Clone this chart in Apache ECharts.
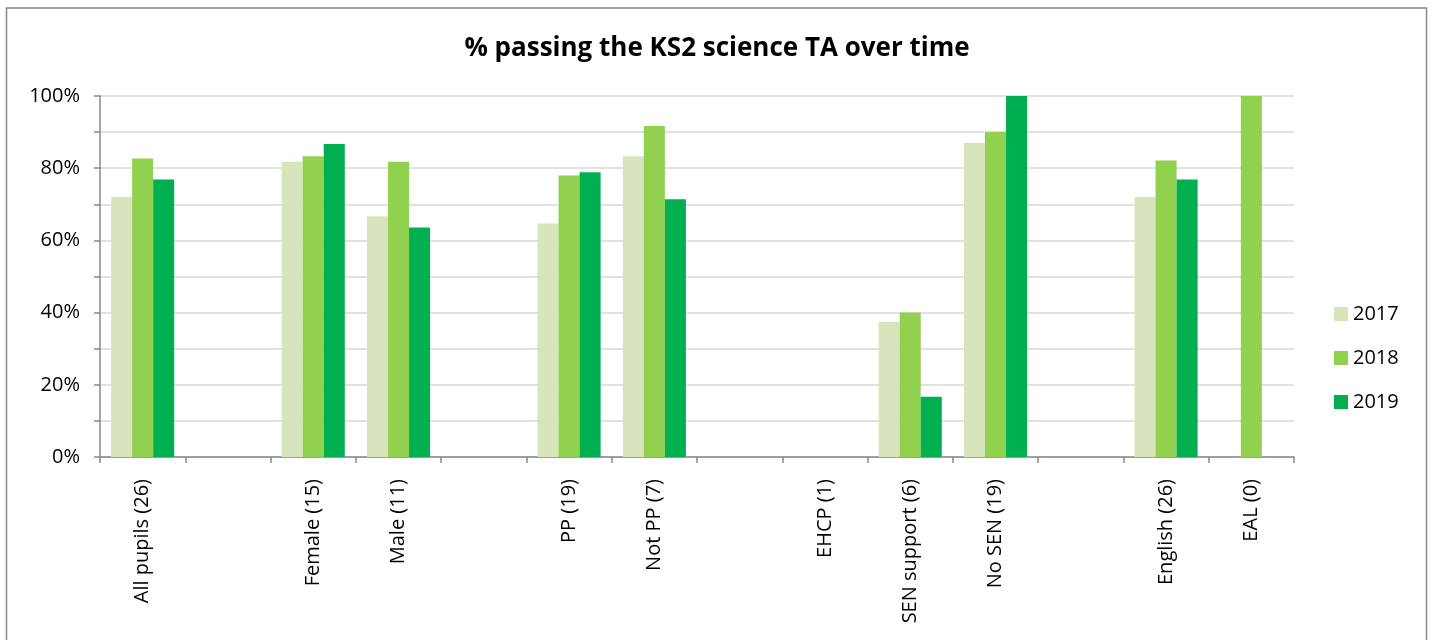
<!DOCTYPE html>
<html>
<head>
<meta charset="utf-8">
<script src="https://cdn.jsdelivr.net/npm/echarts@6/dist/echarts.min.js"></script>
<style>
  html, body { margin: 0; padding: 0; background: #ffffff; }
  #chart { width: 1434px; height: 640px; }
</style>
</head>
<body>
<div id="chart"></div>
<script>
// Pupil groups (empty strings are spacer slots between groups)
const categories = [
  'All pupils (26)', '', 'Female (15)', 'Male (11)', '',
  'PP (19)', 'Not PP (7)', '', 'EHCP (1)', 'SEN support (6)',
  'No SEN (19)', '', 'English (26)', 'EAL (0)'
];

// % passing the KS2 science TA, by year
const pass2017 = [72, null, 81.8, 66.7, null, 64.7, 83.3, null, null, 37.5, 87, null, 72, null];
const pass2018 = [82.7, null, 83.3, 81.8, null, 78, 91.7, null, null, 40, 90, null, 82.1, 100];
const pass2019 = [76.9, null, 86.7, 63.6, null, 78.9, 71.4, null, null, 16.7, 100, null, 76.9, null];

const yTicks = [0, 20, 40, 60, 80, 100];

const FONT = '"Open Sans", "Noto Sans", sans-serif';
const AXIS_GREY = '#898989';

const chart = echarts.init(document.getElementById('chart'), null, { renderer: 'canvas' });

chart.setOption({
  backgroundColor: '#ffffff',
  animation: false,
  graphic: [{
    type: 'rect',
    shape: { x: 6.5, y: 8, width: 1420, height: 700 },
    style: { fill: 'none', stroke: AXIS_GREY, lineWidth: 1.5 },
    silent: true
  }],
  title: {
    text: '% passing the KS2 science TA over time',
    left: 'center',
    top: 31,
    textStyle: { fontFamily: FONT, fontWeight: 'bold', fontSize: 26, color: '#000000' }
  },
  legend: {
    orient: 'vertical',
    left: 1329,
    top: 299,
    itemWidth: 14,
    itemHeight: 14,
    itemGap: 24,
    icon: 'rect',
    textStyle: { fontFamily: FONT, fontSize: 20, color: '#000000', lineHeight: 20 },
    data: ['2017', '2018', '2019']
  },
  grid: { left: 100, right: 140, top: 96, bottom: 183 },
  xAxis: {
    type: 'category',
    data: categories,
    axisLine: { lineStyle: { color: AXIS_GREY, width: 1.5 } },
    axisTick: { show: true, length: 6, lineStyle: { color: AXIS_GREY, width: 1.5 }, interval: 0 },
    axisLabel: {
      interval: 0,
      rotate: 90,
      margin: 22,
      fontFamily: FONT,
      fontSize: 20,
      color: '#000000'
    }
  },
  yAxis: {
    type: 'value',
    min: 0,
    max: 100,
    interval: 10,
    axisLine: { show: true, lineStyle: { color: AXIS_GREY, width: 1.5 } },
    axisTick: { show: true, length: 6, lineStyle: { color: AXIS_GREY, width: 1.5 } },
    splitLine: { lineStyle: { color: '#d9d9d9', width: 1.5 } },
    axisLabel: {
      margin: 20,
      fontFamily: FONT,
      fontSize: 20,
      color: '#000000',
      formatter: v => (yTicks.indexOf(v) >= 0 ? v + '%' : '')
    }
  },
  series: [
    { name: '2017', type: 'bar', data: pass2017, barGap: '0%', barCategoryGap: '26%', itemStyle: { color: '#d8e4bc' } },
    { name: '2018', type: 'bar', data: pass2018, barGap: '0%', barCategoryGap: '26%', itemStyle: { color: '#92d050' } },
    { name: '2019', type: 'bar', data: pass2019, barGap: '0%', barCategoryGap: '26%', itemStyle: { color: '#00b050' } }
  ]
});
</script>
</body>
</html>
